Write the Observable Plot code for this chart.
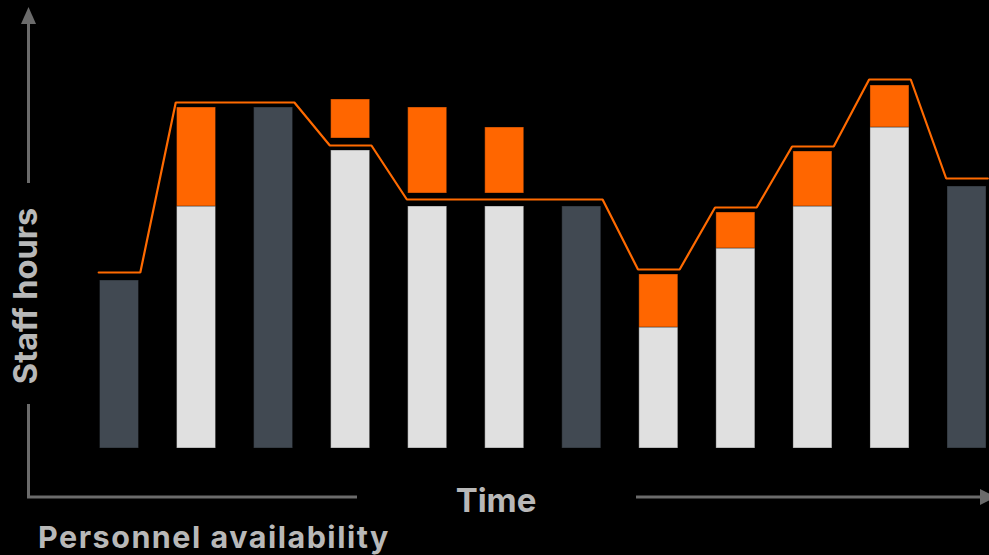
<!DOCTYPE html>
<html>
<head>
<meta charset="utf-8">
<script src="https://cdn.jsdelivr.net/npm/d3@7"></script>
<script src="https://cdn.jsdelivr.net/npm/@observablehq/plot@0.6"></script>
<style>
  html, body { margin: 0; padding: 0; background: #000; }
  #chart svg { display: block; }
</style>
</head>
<body>
<div id="chart"></div>
<script>
// Staff hours per period: covered base, staffing gap and required capacity.
const periods   = [1, 2, 3, 4, 5, 6, 7, 8, 9, 10, 11, 12];
const baseKind  = ["covered", "available", "covered", "available", "available", "available",
                   "covered", "available", "available", "available", "available", "covered"];
const baseHours = [42, 60.5, 85.25, 74.5, 60.5, 60.5, 60.5, 30.25, 50, 60.5, 80.25, 65.5];
const gapLow    = [null, 60.5, null, 77.5, 63.75, 63.75, null, 30.25, 50, 60.5, 80.25, null];
const gapHigh   = [null, 85.25, null, 87.25, 85.25, 80.25, null, 43.5, 59, 74.25, 90.75, null];
const demand    = [44, 86.5, 86.5, 75.75, 62.25, 62.25, 62.25, 44.75, 60.25, 75.5, 92.25, 67.5];

const colors = { covered: "#414952", available: "#e0e0e0", gap: "#ff6600", line: "#ff6a00" };
const half = 0.253;      // half bar width, in period units
const lineHalf = 0.27;   // half width of each flat capacity segment

const bars = periods.map((p, i) => ({ period: p, kind: baseKind[i], value: baseHours[i] }));
const gaps = periods
  .map((p, i) => ({ period: p, low: gapLow[i], high: gapHigh[i] }))
  .filter(d => d.low != null);
const capacity = periods.flatMap((p, i) => [
  { x: p - lineHalf, y: demand[i] },
  { x: p + lineHalf, y: demand[i] }
]);

const chart = Plot.plot({
  width: 989,
  height: 555,
  margin: 0,
  style: { background: "#000", overflow: "visible" },
  x: { domain: [1, 12], range: [119, 966.5], axis: null },
  y: { domain: [0, 100], range: [448, 48], axis: null },
  marks: [
    Plot.rectY(bars, {
      x1: d => d.period - half, x2: d => d.period + half,
      y1: 0, y2: "value",
      fill: d => colors[d.kind],
      stroke: "#000", strokeOpacity: 0.35, strokeWidth: 1
    }),
    Plot.rectY(gaps, {
      x1: d => d.period - half, x2: d => d.period + half,
      y1: "low", y2: "high",
      fill: colors.gap,
      stroke: "#000", strokeOpacity: 0.35, strokeWidth: 1
    }),
    Plot.line(capacity, { x: "x", y: "y", stroke: colors.line, strokeWidth: 2.2, strokeLinejoin: "miter" })
  ]
});

document.getElementById("chart").append(chart);

// Axis frame: broken arrows with embedded labels
const svg = d3.select(chart);
const axisColor = "#6b6b6b";
const textColor = "#b8b8b8";
const font = "Inter, 'Open Sans', sans-serif";
const g = svg.append("g");

// vertical axis: bottom segment, top segment with arrowhead
g.append("path")
  .attr("d", "M28.5,497 V404 M28.5,183 V22")
  .attr("stroke", axisColor).attr("stroke-width", 3).attr("fill", "none");
g.append("path")
  .attr("d", "M28.5,7 L36,24 L21,24 Z")
  .attr("fill", axisColor);

// horizontal axis: left segment, right segment with arrowhead
g.append("path")
  .attr("d", "M27,497 H357 M636,497 H982")
  .attr("stroke", axisColor).attr("stroke-width", 3).attr("fill", "none");
g.append("path")
  .attr("d", "M996,497 L980,489 L980,505 Z")
  .attr("fill", axisColor);

g.append("text")
  .attr("transform", "translate(37,296) rotate(-90)")
  .attr("text-anchor", "middle")
  .attr("font-family", font).attr("font-weight", 700).attr("font-size", 32.5)
  .attr("fill", textColor)
  .text("Staff hours");

g.append("text")
  .attr("x", 496).attr("y", 512)
  .attr("text-anchor", "middle")
  .attr("font-family", font).attr("font-weight", 700).attr("font-size", 33)
  .attr("fill", textColor)
  .text("Time");

g.append("text")
  .attr("x", 38).attr("y", 548)
  .attr("text-anchor", "start")
  .attr("font-family", font).attr("font-weight", 700).attr("font-size", 30.5)
  .attr("letter-spacing", 1.5)
  .attr("fill", textColor)
  .text("Personnel availability");
</script>
</body>
</html>
